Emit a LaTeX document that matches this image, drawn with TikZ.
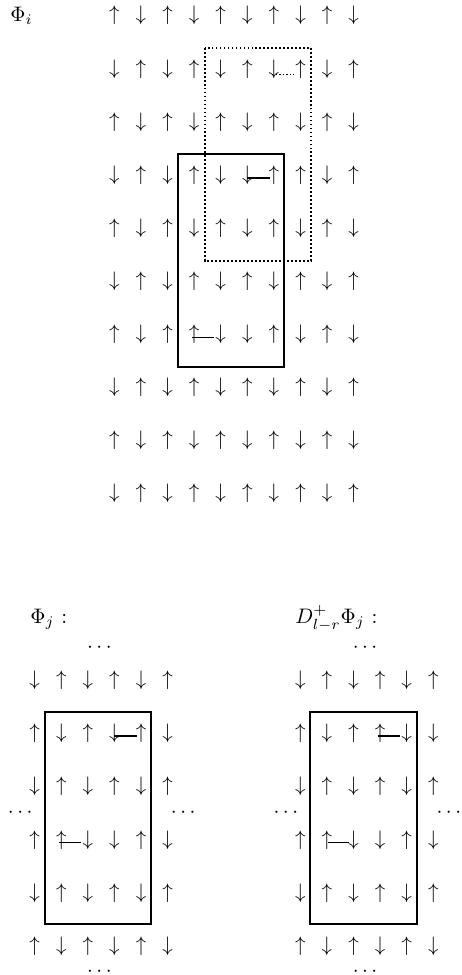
\documentclass[tikz,border=0pt]{standalone}
\usepackage{amsmath,amssymb}
\usepackage{tikz}
\usetikzlibrary{calc}
\newcommand{\spinu}{\uparrow}
\newcommand{\spind}{\downarrow}

\begin{document}
\begin{tikzpicture}[x=0.4762pt,y=-0.4762pt,
    spin/.style={inner sep=0pt},
    label/.style={anchor=base west, inner sep=0pt},
    frame/.style={line width=0.9pt},
    bond/.style={line width=0.7pt},
    hop/.style={line width=1.2pt}]
  \useasboundingbox (0,0) rectangle (462,975);
  % big lattice
  \node[label] (phii) at (10,21) {$\Phi_i$};
  \foreach \r/\row in {1/{u,d,u,d,u,d,u,d,u,d},2/{d,u,d,u,d,u,d,u,d,u},3/{u,d,u,d,u,d,u,d,u,d},
                      4/{d,u,d,u,d,d,u,u,d,u},5/{u,d,u,d,u,d,u,d,u,d},6/{d,u,d,u,d,u,d,u,d,u},
                      7/{u,d,u,u,d,d,u,d,u,d},8/{d,u,d,u,d,u,d,u,d,u},9/{u,d,u,d,u,d,u,d,u,d},
                      10/{d,u,d,u,d,u,d,u,d,u}}
    \foreach \s [count=\c] in \row
      \node[spin] (i-\r-\c) at ({87.73+26.6*\c},{-37.43+53.1*\r}) {$\csname spin\s\endcsname$};
  \draw[frame] (178.3,154.3) rectangle (284,366.7);
  \draw[frame, densely dotted] (204.7,47.7) rectangle (311.3,260.7);
  \draw[bond, densely dotted] ($(i-2-7)+(-2,5.5)$) -- ++(22.5,0);
  \draw[bond] ($(i-4-6)+(0,3)$) -- ++(22.7,0);
  \draw[bond] ($(i-7-4)+(-1.7,3.4)$) -- ++(21.4,0);

  % small lattices
  \node[label] (phij) at (30,623) {$\Phi_j$~:};
  \node[label] (dphij) at (295,623) {$D^+_{l-r}\Phi_j$~:};
  \foreach \g/\x in {j/8.07,d/273.73}{
    \node[anchor=base] (\g-top) at ({\x+93.1},652.6) {$\cdots$};
    \node[anchor=base] (\g-bot) at ({\x+93.1},976.3) {$\cdots$};
    \node[anchor=base] (\g-left) at ({\x+13.9},817) {$\cdots$};
    \node[anchor=base] (\g-right) at ({\x+176.9},817) {$\cdots$};
  }
  \foreach \r/\row in {1/{d,u,d,u,d,u},2/{u,d,u,d,u,d},3/{d,u,d,u,d,u},
                      4/{u,u,d,d,u,d},5/{d,u,d,u,d,u},6/{u,d,u,d,u,d}}
    \foreach \s [count=\c] in \row
      \node[spin] (j-\r-\c) at ({8.07+26.6*\c},{626.67+53.33*\r}) {$\csname spin\s\endcsname$};
  \foreach \r/\row in {1/{d,u,d,u,d,u},2/{u,d,u,u,d,d},3/{d,u,d,u,d,u},
                      4/{u,u,d,d,u,d},5/{d,u,d,u,d,u},6/{u,d,u,d,u,d}}
    \foreach \s [count=\c] in \row
      \node[spin] (d-\r-\c) at ({273.73+26.6*\c},{626.67+53.33*\r}) {$\csname spin\s\endcsname$};
  \draw[frame] (45,712.3) rectangle (151,924.3);
  \draw[frame] (310.3,712.3) rectangle (417,924.3);
  \draw[hop] ($(j-2-4)+(0,2.7)$) -- ++(22.4,0);
  \draw[bond] ($(j-4-2)+(-2,2.7)$) -- ++(22,0);
  \draw[hop] ($(d-2-4)+(-2.6,2.7)$) -- ++(22.3,0);
  \draw[bond] ($(d-4-2)+(0.7,2.7)$) -- ++(21.6,0);
\end{tikzpicture}
\end{document}
